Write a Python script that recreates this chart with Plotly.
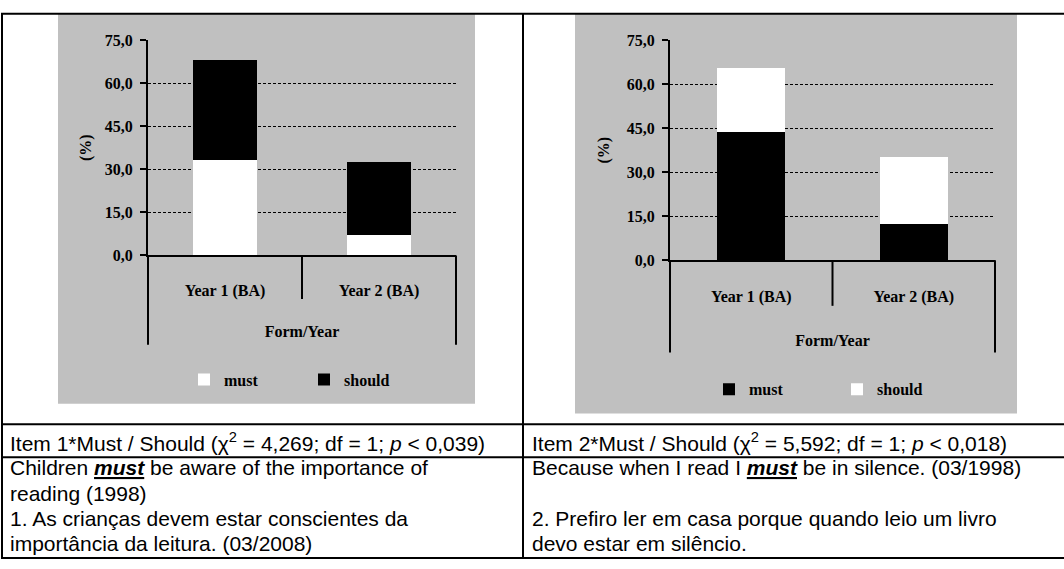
import plotly.graph_objects as go

W, H = 1064, 569

# ---------------- data ----------------
categories = ["Year 1 (BA)", "Year 2 (BA)"]
series_names = ["must", "should"]
chart1_must = [33.3, 7.0]
chart1_should = [34.9, 25.4]
chart2_must = [43.7, 12.3]
chart2_should = [21.8, 22.7]
y_tickvals = [0, 15, 30, 45, 60, 75]
y_ticktext = ["0,0", "15,0", "30,0", "45,0", "60,0", "75,0"]
y_title = "(%)"
x_title = "Form/Year"

stat_left = "Item 1*Must / Should (χ<sup>2</sup> = 4,269; df = 1; <i>p</i> &lt; 0,039)"
stat_right = "Item 2*Must / Should (χ<sup>2</sup> = 5,592; df = 1; <i>p</i> &lt; 0,018)"
quote_left = [
    "Children <b><i><u>must</u></i></b> be aware of the importance of",
    "reading (1998)",
    "1. As crianças devem estar conscientes da",
    "importância da leitura. (03/2008)",
]
quote_right = [
    "Because when I read I <b><i><u>must</u></i></b> be in silence. (03/1998)",
    "",
    "2. Prefiro ler em casa porque quando leio um livro",
    "devo estar em silêncio.",
]

# ---------------- styles ----------------
SERIF = "Liberation Serif"
SANS = "Liberation Sans"
GRAY = "#c0c0c0"
chart_font = dict(family=SERIF, size=16, color="black", weight="bold")
table_font = dict(family=SANS, size=21, color="black")


def px_x(x):
    return x / W


def px_y(y):
    return 1 - y / H


fig = go.Figure()

# chart 1: must white, should black
fig.add_trace(go.Bar(x=categories, y=chart1_must, name=series_names[0], marker=dict(color="white", line=dict(width=0)),
                     width=0.42, xaxis="x", yaxis="y", legend="legend"))
fig.add_trace(go.Bar(x=categories, y=chart1_should, name=series_names[1], marker=dict(color="black", line=dict(width=0)),
                     width=0.42, xaxis="x", yaxis="y", legend="legend"))
# chart 2: must black, should white
fig.add_trace(go.Bar(x=categories, y=chart2_must, name=series_names[0], marker=dict(color="black", line=dict(width=0)),
                     width=0.42, xaxis="x2", yaxis="y2", legend="legend2"))
fig.add_trace(go.Bar(x=categories, y=chart2_should, name=series_names[1], marker=dict(color="white", line=dict(width=0)),
                     width=0.42, xaxis="x2", yaxis="y2", legend="legend2"))

# chart geometry (pixels)
c1 = dict(left=148, right=456, top=33, bottom=255, tickstand=19, titlestand=27, ytitlestand=9)
c2 = dict(left=670, right=995, top=33, bottom=260, tickstand=21, titlestand=29, ytitlestand=13)


def xaxis_cfg(c, anchor):
    return dict(domain=[px_x(c["left"]), px_x(c["right"])], anchor=anchor, type="category",
                showline=True, linecolor="black", linewidth=2, showgrid=False, ticks="",
                tickfont=chart_font, ticklabelstandoff=c["tickstand"],
                title=dict(text=x_title, font=chart_font, standoff=c["titlestand"]),
                fixedrange=True)


def yaxis_cfg(c, anchor):
    return dict(domain=[px_y(c["bottom"]), px_y(c["top"])], anchor=anchor, range=[0, 75],
                tickvals=y_tickvals, ticktext=y_ticktext, tickfont=chart_font,
                ticks="outside", ticklen=6, tickwidth=1.5, tickcolor="black", ticklabelstandoff=4,
                showline=True, linecolor="black", linewidth=2,
                showgrid=True, gridcolor="black", gridwidth=1, griddash="3px,2px",
                zeroline=False,
                title=dict(text=y_title, font=chart_font, standoff=c["ytitlestand"]),
                fixedrange=True)


shapes = []
# gray chart backgrounds
shapes.append(dict(type="rect", xref="paper", yref="paper", x0=px_x(58), x1=px_x(475), y0=px_y(408), y1=px_y(6),
                   fillcolor=GRAY, line=dict(width=0), layer="below"))
shapes.append(dict(type="rect", xref="paper", yref="paper", x0=px_x(575), x1=px_x(1017), y0=px_y(418), y1=px_y(6),
                   fillcolor=GRAY, line=dict(width=0), layer="below"))

# category separator lines below x axes
for c, xr, yr, long_px, mid_px in [(c1, "x", "y", 347, 300), (c2, "x2", "y2", 355, 307)]:
    h = c["bottom"] - c["top"]
    y_long = -(long_px - c["bottom"]) / h
    y_mid = -(mid_px - c["bottom"]) / h
    for xd in (0, 1):
        shapes.append(dict(type="line", xref=xr + " domain", yref=yr + " domain", x0=xd, x1=xd, y0=0, y1=y_long,
                           line=dict(color="black", width=2)))
    shapes.append(dict(type="line", xref=xr + " domain", yref=yr + " domain", x0=0.5, x1=0.5, y0=0, y1=y_mid,
                       line=dict(color="black", width=2)))

# table lines
TL, TR, TT, TB = 2, 1066, 6, 567
shapes.append(dict(type="rect", xref="paper", yref="paper", x0=px_x(TL), x1=px_x(TR), y0=px_y(TB), y1=px_y(TT),
                   line=dict(color="black", width=2), fillcolor="rgba(0,0,0,0)", layer="above"))
shapes.append(dict(type="line", xref="paper", yref="paper", x0=px_x(523), x1=px_x(523), y0=px_y(TB), y1=px_y(TT),
                   line=dict(color="black", width=2)))
for yy in (429, 463):
    shapes.append(dict(type="line", xref="paper", yref="paper", x0=px_x(TL), x1=px_x(TR), y0=px_y(yy), y1=px_y(yy),
                       line=dict(color="black", width=2)))

annotations = []
annotations.append(dict(text=stat_left, x=px_x(8), y=px_y(447), xref="paper", yref="paper", xanchor="left",
                        yanchor="middle", showarrow=False, font=table_font))
annotations.append(dict(text=stat_right, x=px_x(530), y=px_y(447), xref="paper", yref="paper", xanchor="left",
                        yanchor="middle", showarrow=False, font=table_font))
line_y = [474, 500, 526, 552]
for txt, yy in zip(quote_left, line_y):
    if txt:
        annotations.append(dict(text=txt, x=px_x(8), y=px_y(yy), xref="paper", yref="paper", xanchor="left",
                                yanchor="middle", showarrow=False, font=table_font))
for txt, yy in zip(quote_right, line_y):
    if txt:
        annotations.append(dict(text=txt, x=px_x(530), y=px_y(yy), xref="paper", yref="paper", xanchor="left",
                                yanchor="middle", showarrow=False, font=table_font))

legend_common = dict(orientation="h", xanchor="left", yanchor="middle", bgcolor="rgba(0,0,0,0)",
                     font=dict(family=SERIF, size=16, color="black", weight="bold"), traceorder="normal",
                     itemclick=False, itemdoubleclick=False)

fig.update_layout(
    width=W, height=H,
    margin=dict(l=0, r=0, t=0, b=0),
    paper_bgcolor="white", plot_bgcolor="rgba(0,0,0,0)",
    barmode="stack", bargap=0.58,
    showlegend=True,
    xaxis=xaxis_cfg(c1, "y"), yaxis=yaxis_cfg(c1, "x"),
    xaxis2=xaxis_cfg(c2, "y2"), yaxis2=yaxis_cfg(c2, "x2"),
    legend=dict(legend_common, x=px_x(184), y=px_y(383), entrywidth=75),
    legend2=dict(legend_common, x=px_x(709), y=px_y(393), entrywidth=83),
    shapes=shapes,
    annotations=annotations,
)

fig.write_html("out.html", config={"displayModeBar": False},
               post_script="document.body.style.margin='0';document.body.style.overflow='hidden';")
